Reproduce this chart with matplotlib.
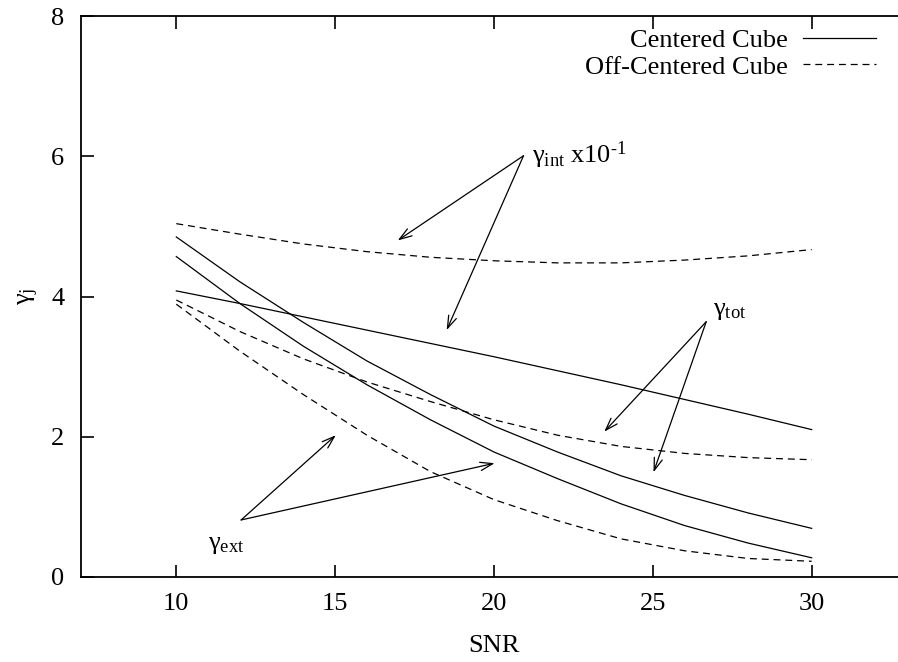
import matplotlib
matplotlib.use("Agg")
import matplotlib.pyplot as plt

plt.rcParams["font.family"] = ["Liberation Serif", "DejaVu Serif"]
plt.rcParams["mathtext.fontset"] = "custom"
plt.rcParams["mathtext.rm"] = "Liberation Serif"
plt.rcParams["mathtext.it"] = "Liberation Serif"
plt.rcParams["lines.scale_dashes"] = False
FS = 19

# SNR grid and curves
snr = [10, 12, 14, 16, 18, 20, 22, 24, 26, 28, 30]
cen_int = [4.08, 3.90, 3.71, 3.52, 3.33, 3.14, 2.94, 2.74, 2.53, 2.32, 2.10]
cen_tot = [4.85, 4.21, 3.63, 3.08, 2.60, 2.15, 1.78, 1.44, 1.16, 0.91, 0.69]
cen_ext = [4.57, 3.90, 3.29, 2.74, 2.24, 1.78, 1.40, 1.04, 0.73, 0.48, 0.27]
off_int = [5.04, 4.89, 4.75, 4.64, 4.56, 4.51, 4.48, 4.48, 4.52, 4.58, 4.67]
off_tot = [3.95, 3.50, 3.11, 2.78, 2.50, 2.24, 2.02, 1.86, 1.76, 1.70, 1.67]
off_ext = [3.89, 3.22, 2.60, 2.02, 1.50, 1.10, 0.80, 0.54, 0.37, 0.26, 0.22]

xticks = [10, 15, 20, 25, 30]
yticks = [0, 2, 4, 6, 8]

fig = plt.figure(figsize=(8.98, 6.62), dpi=100)
ax = fig.add_axes([81 / 898, 85.3 / 662, 826 / 898, 560.4 / 662])

LW = 0.9
DASH = (5, 3.5)
ax.plot(snr, cen_int, color="black", lw=LW, label="Centered Cube")
ax.plot(snr, cen_tot, color="black", lw=LW)
ax.plot(snr, cen_ext, color="black", lw=LW)
ax.plot(snr, off_int, color="black", lw=LW, dashes=DASH, label="Off-Centered Cube")
ax.plot(snr, off_tot, color="black", lw=LW, dashes=DASH)
ax.plot(snr, off_ext, color="black", lw=LW, dashes=DASH)

ax.set_xlim(7, 33)
ax.set_ylim(0, 8)
ax.set_xticks(xticks)
ax.set_yticks(yticks)
ax.tick_params(direction="in", length=9, width=1.2, labelsize=FS,
               top=True, right=False)
ax.tick_params(axis="x", pad=12)
ax.tick_params(axis="y", pad=12)
for s in ax.spines.values():
    s.set_linewidth(1.3)
ax.spines["right"].set_visible(False)

ax.set_xlabel("SNR", fontsize=FS, labelpad=14)
ax.set_ylabel(r"γ$_{\mathrm{j}}$", fontsize=FS, labelpad=7)

# annotation arrows
aprops = dict(arrowstyle="->,head_length=0.9,head_width=0.3", color="black",
              lw=0.9, shrinkA=0, shrinkB=0)
ax.annotate("", xy=(16.97, 4.80), xytext=(20.93, 6.01), arrowprops=aprops)
ax.annotate("", xy=(18.51, 3.52), xytext=(20.93, 6.01), arrowprops=aprops)
ax.text(21.2, 6.01, "γ$_{\\mathrm{int}}$ x10$^{\\mathrm{\u20101}}$", fontsize=FS,
        ha="left", va="center")

ax.annotate("", xy=(23.47, 2.07), xytext=(26.68, 3.64), arrowprops=aprops)
ax.annotate("", xy=(25.02, 1.49), xytext=(26.68, 3.64), arrowprops=aprops)
ax.text(26.9, 3.80, r"γ$_{\mathrm{tot}}$", fontsize=FS, ha="left", va="center")

ax.annotate("", xy=(15.02, 2.02), xytext=(12.04, 0.81), arrowprops=aprops)
ax.annotate("", xy=(20.02, 1.62), xytext=(12.04, 0.81), arrowprops=aprops)
ax.text(11.0, 0.45, r"γ$_{\mathrm{ext}}$", fontsize=FS, ha="left", va="center")

leg = ax.legend(loc="upper right", bbox_to_anchor=(876 / 898, 1 - 29 / 662),
                bbox_transform=fig.transFigure, frameon=False, fontsize=FS,
                markerfirst=False, handlelength=2.75, handletextpad=0.6,
                labelspacing=0.1, borderpad=0, borderaxespad=0)

fig.savefig("out.png", dpi=100, facecolor="white")
